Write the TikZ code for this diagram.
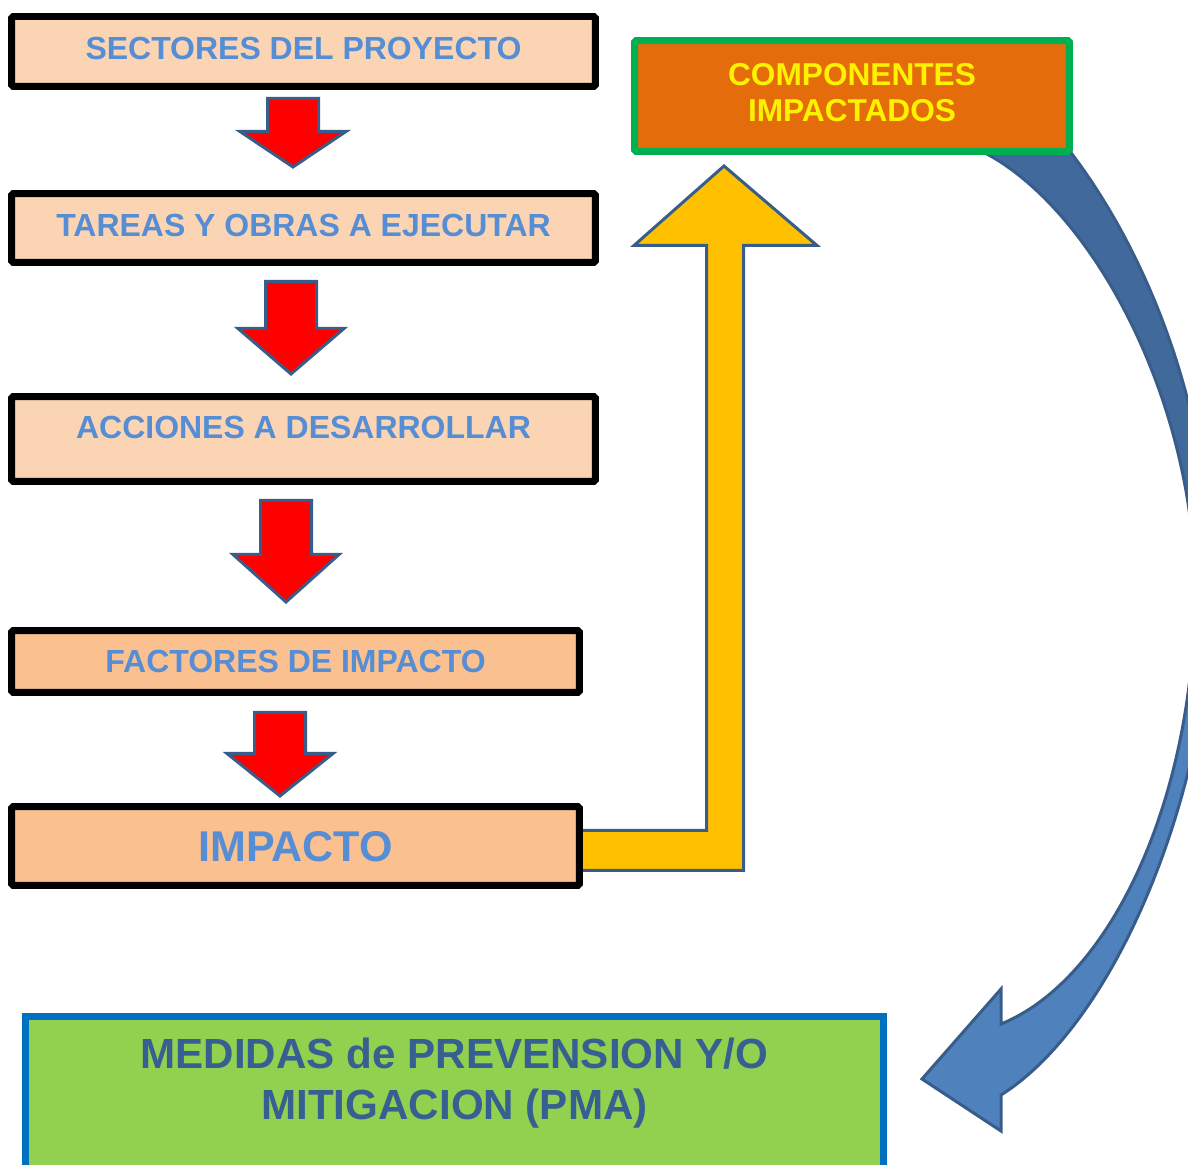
\documentclass[tikz,border=0pt]{standalone}
\usepackage{fontspec}
\setmainfont{Liberation Sans}
\usetikzlibrary{calc,backgrounds}
\definecolor{durazno}{HTML}{FBD4B4}
\definecolor{duraznoosc}{HTML}{FAC090}
\definecolor{azultexto}{HTML}{558ED5}
\definecolor{azulborde}{HTML}{385D8A}
\definecolor{naranja}{HTML}{E46C0A}
\definecolor{verdeborde}{HTML}{00B050}
\definecolor{verdepma}{HTML}{92D050}
\definecolor{azulpma}{HTML}{0070C0}
\definecolor{textopma}{HTML}{376092}
\definecolor{amarillo}{HTML}{FFC000}
\definecolor{azulflecha}{HTML}{4F81BD}
\definecolor{azulosc}{HTML}{41699B}
% block arrow pointing down: top point, shaft length, head length
\newcommand{\bajada}[3]{%
\draw[flecharoja] (#1) ++(-25.5,0) -- ++(51,0) -- ++(0,#2) -- ++(27.5,0) -- ++(-53,#3) -- ++(-53,-#3) -- ++(27.5,0) -- cycle;}
\begin{document}
\begin{tikzpicture}[x=0.02cm, y=-0.02cm,
caja/.style={draw=black, line width=0.14cm, rounded corners=1pt, fill=durazno, text=azultexto, text depth=0.12cm, font=\bfseries\fontsize{18.2}{22}\selectfont},
flecharoja/.style={fill=red, draw=azulborde, line width=0.06cm},
flechaamarilla/.style={fill=amarillo, draw=azulborde, line width=0.06cm},
flechaazul/.style={draw=azulborde, line width=0.06cm}]
\useasboundingbox (0,0) rectangle (1188,1165);
\node[caja, minimum width=11.68cm, minimum height=1.4cm] (sec) at (303.5,51.5){SECTORES DEL PROYECTO};
\node[caja, minimum width=11.68cm, minimum height=1.38cm] (tar) at (303.5,228){TAREAS Y OBRAS A EJECUTAR};
\node[caja, minimum width=11.68cm, minimum height=1.7cm, text height=0.5cm, text depth=0.5cm] (acc) at (303.5,439){ACCIONES A DESARROLLAR};
\node[caja, fill=duraznoosc, minimum width=11.36cm, minimum height=1.24cm, text depth=0cm] (fac) at (295.5,661.5){FACTORES DE IMPACTO};
\node[caja, fill=duraznoosc, minimum width=11.36cm, minimum height=1.58cm, text depth=0cm, font=\bfseries\fontsize{24.5}{28}\selectfont] (imp) at (295.5,846){IMPACTO};
\node[draw=verdeborde, line width=0.14cm, rounded corners=1pt, fill=naranja, text=yellow, align=center, text depth=0.16cm, font=\bfseries\fontsize{18}{20.5}\selectfont, minimum width=8.7cm, minimum height=2.22cm] (comp) at (852,96){COMPONENTES\\IMPACTADOS};
\node[draw=azulpma, line width=0.14cm, fill=verdepma, minimum width=17.16cm, minimum height=4cm] (pma) at (454.5,1116.5){};
\node[text=textopma, align=center, font=\bfseries\fontsize{24}{29}\selectfont] (pmatxt) at (454.5,1083){MEDIDAS de PREVENSION Y/O\\MITIGACION (PMA)};
% red arrows
\bajada{$(sec.south)+(-10.5,8.5)$}{33}{35.5}
\bajada{$(tar.south)+(-12.5,15.5)$}{47}{45.5}
\bajada{$(acc.south)+(-17.5,15.5)$}{54}{47.5}
\bajada{$(fac.south)+(-15.5,16.5)$}{41}{42.5}
\begin{pgfonlayer}{background}
% yellow arrow
\draw[flechaamarilla] ($(imp.east)+(-15,-15.5)$) -- (706.5,830.5) -- (706.5,245.5) -- (634,245.5) -- ($(comp.south)+(-128,11)$) -- (817,245.5) -- (743.5,245.5) -- (743.5,870.5) -- ($(imp.east)+(-15,24.5)$) -- cycle;
% curved arrow
\draw[flechaazul, fill=azulosc] (975,148) .. controls (1090,200) and (1195,400) .. (1195,590) -- (1212,590) .. controls (1212,400) and (1140,240) .. (1065,145) -- cycle;
\draw[flechaazul, fill=azulflecha] (1195,590) .. controls (1195,800) and (1110,980) .. (1001,1024) -- (1001,989) -- (922,1079) -- (1001,1131) -- (1001,1095) .. controls (1120,1020) and (1212,780) .. (1212,590) -- cycle;
\end{pgfonlayer}
\end{tikzpicture}
\end{document}
